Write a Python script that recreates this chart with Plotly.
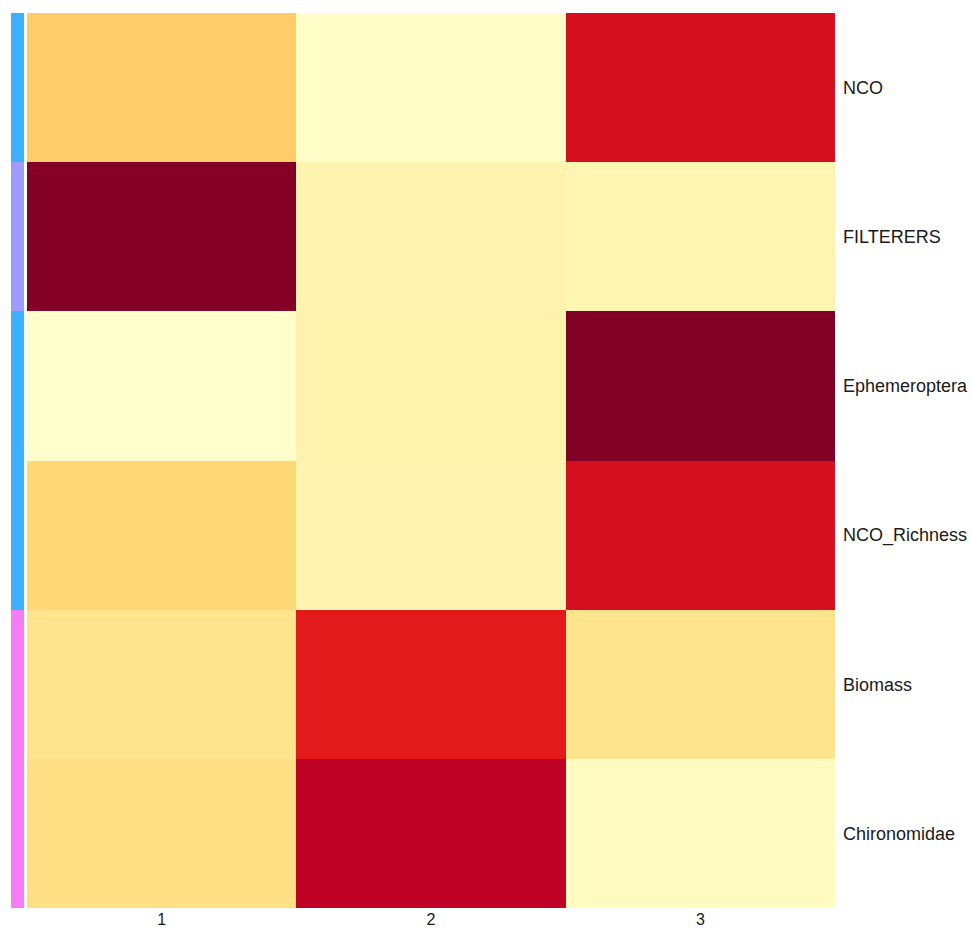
import plotly.graph_objects as go

# Data (rows listed top to bottom)
rows = ["NCO", "FILTERERS", "Ephemeroptera", "NCO_Richness", "Biomass", "Chironomidae"]
cols = ["1", "2", "3"]
col1 = [0.29, 0.99, 0.00, 0.25, 0.18, 0.21]
col2 = [0.01, 0.08, 0.09, 0.08, 0.75, 0.87]
col3 = [0.80, 0.07, 1.00, 0.80, 0.18, 0.03]
side_group = [0, 1, 0, 0, 2, 2]
side_colors = ["#3AB0FF", "#A09CFF", "#F67CF7"]

z = [[a, b, c] for a, b, c in zip(col1, col2, col3)]

ylorrd = [
    [0.0, "#ffffcc"], [0.125, "#ffeda0"], [0.25, "#fed976"], [0.375, "#feb24c"],
    [0.5, "#fd8d3c"], [0.625, "#fc4e2a"], [0.75, "#e31a1c"], [0.875, "#bd0026"],
    [1.0, "#800026"],
]

n = len(side_colors)
side_scale = []
for i, c in enumerate(side_colors):
    side_scale.append([i / n, c])
    side_scale.append([(i + 1) / n, c])

fig = go.Figure()
fig.add_trace(go.Heatmap(
    z=z, x=cols, y=rows, colorscale=ylorrd, zmin=0, zmax=1,
    showscale=False, xaxis="x", yaxis="y",
))
fig.add_trace(go.Heatmap(
    z=[[g] for g in side_group], x=["group"], y=rows, colorscale=side_scale,
    zmin=-0.5, zmax=n - 0.5, showscale=False, xaxis="x2", yaxis="y2",
))

W, H = 971, 929
L, T = 11, 13
R = W - 835
B = H - 908
pw = W - L - R
fig.update_layout(
    width=W, height=H,
    margin=dict(l=L, r=R, t=T, b=B, pad=0),
    paper_bgcolor="white", plot_bgcolor="white",
    font=dict(family="Arial, Liberation Sans, sans-serif", size=18, color="#1a1a1a"),
    xaxis=dict(domain=[(27 - 11) / pw, 1], showgrid=False, zeroline=False,
               ticks="", showline=False, automargin=False,
               tickfont=dict(size=16, color="#1a1a1a")),
    yaxis=dict(domain=[0, 1], side="right", autorange="reversed", showgrid=False,
               zeroline=False, ticks="", showline=False, automargin=False,
               ticklabelstandoff=7,
               tickfont=dict(size=18, color="#1a1a1a")),
    xaxis2=dict(domain=[0, (24 - 11) / pw], showticklabels=False, showgrid=False,
                zeroline=False, ticks="", automargin=False),
    yaxis2=dict(domain=[0, 1], autorange="reversed", showticklabels=False,
                showgrid=False, zeroline=False, ticks="", automargin=False),
)

fig.write_html("out.html",
               config={"displayModeBar": False},
               post_script="document.body.style.margin='0';document.body.style.overflow='hidden';")
